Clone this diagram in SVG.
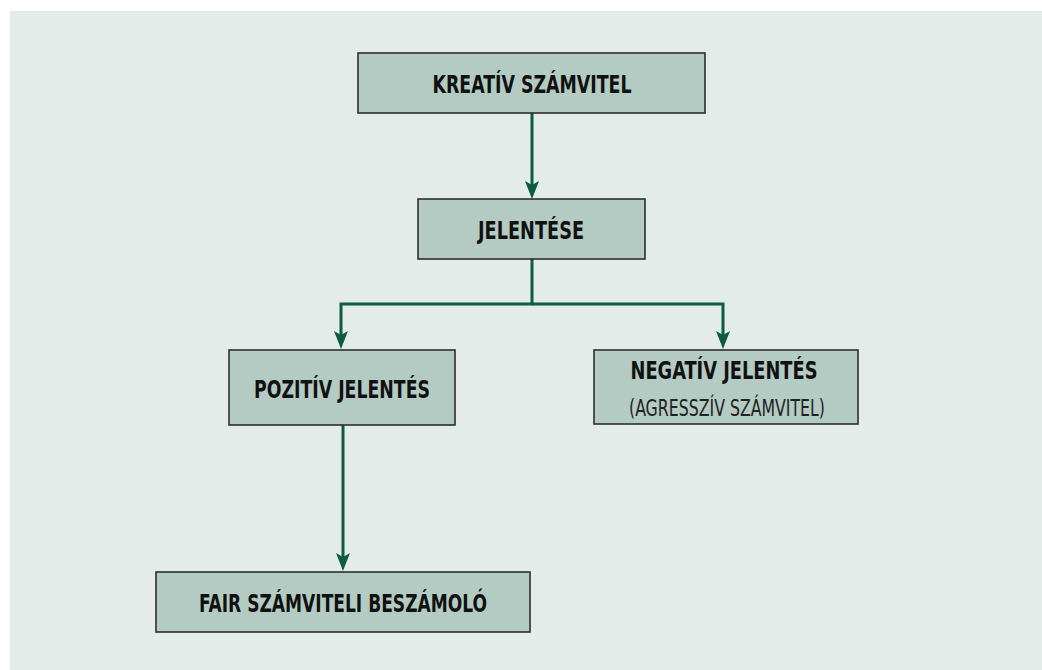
<svg xmlns="http://www.w3.org/2000/svg" width="1042" height="670" viewBox="0 0 1042 670">
<style>
.box{fill:#b3cbc3;stroke:#2e2e2e;stroke-width:1.6}
.t{font-family:"Liberation Sans Narrow","DejaVu Sans Condensed","Liberation Sans",sans-serif;font-stretch:condensed;font-weight:bold;font-size:24px;fill:#111;text-anchor:middle}
.s{font-family:"Liberation Sans Narrow","DejaVu Sans Condensed","Liberation Sans",sans-serif;font-stretch:condensed;font-weight:normal;font-size:23px;fill:#222;text-anchor:middle}
.c{fill:none;stroke:#0d5b40;stroke-width:3}
</style>
<defs>
<marker id="ah" viewBox="0 0 18 14" refX="8" refY="7" markerWidth="18" markerHeight="14" markerUnits="userSpaceOnUse" orient="auto">
<path d="M0,0 L4,7 L0,14 L18,7 Z" fill="#0d5b40"/>
</marker>
</defs>
<rect x="10" y="11" width="1032" height="659" fill="#e3ece9"/>
<g id="connectors">
<path class="c" d="M532,113 V189" marker-end="url(#ah)"/>
<path class="c" d="M532,259 V304 H341 V339" marker-end="url(#ah)"/>
<path class="c" d="M532,304 H723 V339" marker-end="url(#ah)"/>
<path class="c" d="M343,425 V561" marker-end="url(#ah)"/>
</g>
<g id="kreativ">
<rect class="box" x="358" y="53" width="347" height="60"/>
<text class="t" x="532" y="93" textLength="199" lengthAdjust="spacingAndGlyphs">KREATÍV SZÁMVITEL</text>
</g>
<g id="jelentese">
<rect class="box" x="418" y="199" width="227" height="60"/>
<text class="t" x="531" y="239" textLength="106" lengthAdjust="spacingAndGlyphs">JELENTÉSE</text>
</g>
<g id="pozitiv">
<rect class="box" x="229" y="350" width="226" height="75"/>
<text class="t" x="342" y="398" textLength="176" lengthAdjust="spacingAndGlyphs">POZITÍV JELENTÉS</text>
</g>
<g id="negativ">
<rect class="box" x="594" y="350" width="264" height="74"/>
<text class="t" x="724" y="379" textLength="187" lengthAdjust="spacingAndGlyphs">NEGATÍV JELENTÉS</text>
<text class="s" x="727" y="416" textLength="196" lengthAdjust="spacingAndGlyphs">(AGRESSZÍV SZÁMVITEL)</text>
</g>
<g id="fair">
<rect class="box" x="156" y="572" width="374" height="60"/>
<text class="t" x="343" y="612" textLength="288" lengthAdjust="spacingAndGlyphs">FAIR SZÁMVITELI BESZÁMOLÓ</text>
</g>
</svg>
